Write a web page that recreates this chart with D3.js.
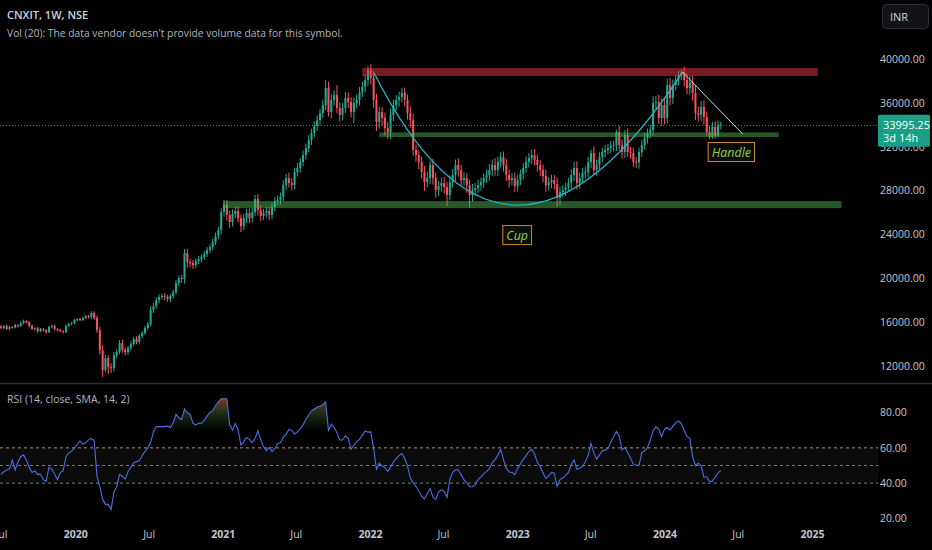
<!DOCTYPE html>
<html>
<head>
<meta charset="utf-8">
<script src="https://cdn.jsdelivr.net/npm/d3@7"></script>
<style>
  html, body { margin: 0; padding: 0; background: #000; }
  svg { display: block; font-family: "Open Sans", "Noto Sans", sans-serif; }
</style>
</head>
<body>
<svg id="chart" width="932" height="550"></svg>
<script>
// weekly closes, CNXIT, week of 1 Jul 2019 .. week of 20 May 2024
const closes = [
  15460, 15640, 15370, 15550, 15520, 15730, 15640, 15910, 16100, 16000, 15640, 15370, 15460, 15180, 15370, 15270,
  15090, 15550, 15640, 15370, 15270, 15180, 15090, 15640, 15820, 15910, 16190, 16280, 16190, 16370, 16550, 16460,
  16830, 16370, 15270, 13450, 11620, 12720, 11900, 11800, 12990, 13270, 14090, 13450, 13270, 13630, 14000, 14450,
  14180, 14730, 15000, 15460, 15820, 17100, 17460, 18010, 18290, 18380, 18290, 18100, 18380, 18740, 19560, 20020,
  19930, 22300, 21480, 21390, 21200, 21570, 21750, 21930, 22210, 22570, 22850, 23300, 23850, 24400, 26040, 26680,
  25770, 25130, 25860, 26130, 25490, 24760, 25490, 25950, 25490, 26040, 27230, 26220, 25680, 25950, 26130, 25770,
  26500, 27040, 27140, 27410, 28500, 29140, 28690, 28500, 29690, 30060, 30600, 31240, 31880, 32610, 33250, 33890,
  34430, 35070, 35800, 37350, 35160, 36260, 36720, 35530, 34890, 35530, 36440, 36080, 35160, 35990, 36260, 36990,
  37450, 38080, 39000, 38270, 36260, 34250, 35160, 34620, 33700, 33300, 34890, 35800, 36260, 36530, 36900, 36260,
  35070, 34430, 31700, 31240, 30600, 29690, 28780, 29140, 30330, 29140, 28050, 28410, 28690, 28320, 27600, 28780,
  29420, 30330, 29870, 28960, 29140, 28500, 27590, 28050, 28230, 28500, 28780, 29140, 29420, 29870, 30330, 29870,
  30600, 31060, 30330, 29420, 28960, 29140, 28410, 28960, 29510, 30060, 30600, 30970, 31240, 30790, 30330, 29870,
  29330, 28500, 28780, 28960, 28600, 27320, 27870, 28050, 28320, 28690, 29420, 30060, 28690, 29140, 29600, 29690,
  30600, 31420, 29870, 30330, 31060, 31520, 31700, 31880, 32060, 32150, 33340, 32150, 31520, 33070, 31520, 31430,
  30600, 30550, 31520, 32150, 32790, 33250, 33520, 35990, 36080, 34620, 35800, 34620, 37630, 36440, 37630, 38080,
  38540, 38810, 38080, 37350, 37900, 36900, 35070, 34890, 35620, 34710, 33340, 32880, 33800, 32980, 33980, 33995.25
]
const firstOpen = 15600

// upper / lower shadow lengths, index points
const wickUp = [
  120, 90, 150, 110, 80, 140, 100, 160, 130, 90, 110, 150, 80, 120, 100, 90,
  100, 130, 90, 120, 80, 110, 100, 150, 120, 100, 130, 90, 110, 140, 120, 100,
  180, 160, 220, 300, 450, 270, 270, 350, 300, 250, 280, 330, 260, 220, 250, 200,
  250, 200, 180, 220, 210, 350, 300, 260, 240, 230, 260, 210, 200, 240, 300, 250,
  300, 360, 400, 300, 280, 260, 300, 240, 260, 280, 250, 300, 320, 280, 350, 460,
  450, 380, 420, 400, 450, 350, 400, 380, 420, 360, 360, 450, 400, 380, 350, 400,
  380, 350, 420, 400, 450, 380, 500, 420, 400, 450, 380, 420, 400, 450, 380, 420,
  450, 400, 500, 730, 600, 500, 450, 900, 500, 450, 550, 500, 450, 480, 500, 450,
  500, 450, 360, 500, 600, 550, 500, 450, 500, 550, 600, 500, 450, 500, 450, 500,
  500, 600, 550, 500, 450, 500, 550, 600, 400, 550, 500, 450, 500, 550, 450, 600,
  550, 500, 600, 500, 550, 450, 500, 550, 450, 500, 400, 450, 500, 550, 500, 600,
  500, 450, 500, 550, 500, 450, 500, 450, 400, 450, 500, 450, 500, 550, 500, 450,
  500, 550, 450, 500, 450, 600, 500, 450, 400, 450, 500, 550, 600, 500, 450, 500,
  450, 300, 600, 500, 450, 400, 450, 400, 450, 400, 200, 550, 500, 450, 600, 450,
  500, 450, 400, 450, 500, 400, 450, 600, 550, 650, 600, 700, 550, 650, 500, 450,
  400, 200, 500, 600, 550, 600, 700, 600, 550, 600, 500, 550, 450, 500, 400, 300
]
const wickDn = [
  90, 120, 80, 130, 100, 90, 150, 80, 110, 140, 100, 90, 120, 160, 100, 130,
  150, 90, 110, 140, 120, 90, 130, 80, 100, 110, 90, 120, 100, 80, 110, 130,
  200, 150, 250, 400, 630, 180, 640, 420, 300, 280, 200, 250, 300, 260, 220, 180,
  200, 220, 180, 150, 200, 180, 250, 230, 280, 220, 300, 240, 260, 210, 230, 280,
  350, 400, 500, 380, 360, 300, 280, 320, 250, 260, 300, 280, 260, 300, 400, 420,
  500, 550, 400, 380, 420, 540, 380, 420, 450, 400, 350, 500, 450, 380, 420, 460,
  400, 380, 350, 420, 380, 450, 420, 500, 380, 400, 450, 380, 420, 400, 450, 380,
  450, 500, 420, 480, 400, 550, 500, 450, 600, 500, 450, 550, 500, 1000, 450, 500,
  450, 500, 550, 600, 700, 800, 600, 700, 650, 600, 600, 550, 500, 600, 500, 550,
  600, 700, 550, 600, 650, 600, 800, 500, 550, 600, 700, 550, 500, 600, 1000, 500,
  500, 550, 600, 550, 500, 700, 1190, 600, 500, 450, 500, 550, 450, 500, 550, 500,
  550, 500, 600, 550, 700, 500, 550, 500, 450, 500, 450, 500, 550, 500, 600, 550,
  550, 600, 500, 550, 500, 820, 650, 500, 550, 450, 500, 550, 600, 500, 450, 500,
  500, 550, 450, 500, 400, 450, 500, 400, 450, 500, 550, 500, 600, 550, 450, 500,
  450, 500, 550, 450, 400, 500, 450, 500, 600, 550, 700, 600, 500, 650, 550, 500,
  500, 450, 600, 550, 600, 700, 650, 600, 550, 700, 300, 200, 150, 250, 150, 400
]

// RSI (14, close, SMA, 14, 2), one value per week
const rsiValues = [
  45, 46.5, 47.5, 48, 53, 47.5, 52, 55, 56, 53, 49, 46, 47, 45, 45, 42,
  41, 49, 48, 45, 42, 46, 47, 55, 57, 58, 60, 62, 64, 62, 63, 64.5,
  65.3, 64, 44, 38, 31, 28, 28, 25, 35, 38, 45, 44, 42.3, 46.5, 49, 51.5,
  52.2, 52.7, 55.5, 58, 60, 63, 69, 72, 72, 72, 72, 72.3, 71.5, 74, 79, 77,
  76, 82, 80, 79, 74, 73, 74, 74, 75.5, 78, 80, 81, 84, 86, 87.8, 87.8,
  87.8, 73, 70, 73.7, 70, 61.6, 63.5, 65.9, 64.8, 63, 65.3, 69.6, 64.8, 60.7, 58.4, 60.3,
  57.8, 59.5, 62.5, 62.9, 65.9, 67.8, 70.4, 70, 67.8, 69, 70.9, 73, 76, 78.6, 80.9, 82,
  83.1, 83.5, 84.4, 86.1, 70, 73.4, 71.5, 68.5, 64.4, 64.4, 66.8, 65.3, 59.2, 61.6, 63.5, 64.8,
  67.2, 69.6, 68.9, 69, 59.7, 47.9, 51.3, 49.8, 48.9, 46.6, 49, 51.9, 54.1, 55.6, 56.9, 54.1,
  49.8, 42.9, 40.1, 38.2, 35.4, 32.6, 31.1, 34.1, 36.9, 32.2, 30.7, 34.9, 36.3, 35.4, 32, 42,
  46.1, 47.6, 47.6, 44.8, 42, 40.1, 38, 38, 39.2, 42, 43.6, 45.4, 46.5, 48.2, 51.7, 53.2,
  56, 59, 53.2, 48.5, 46.3, 46.1, 44.8, 48.5, 50.9, 53.6, 55.6, 57.9, 59.2, 56.5, 51.7, 49.4,
  45.7, 42.7, 44, 46.1, 45.7, 38.2, 42, 42.9, 44.4, 46.1, 50.4, 53.2, 47.9, 48.5, 49.4, 52.2,
  55.6, 62.5, 57.3, 53.6, 56, 58.4, 58.6, 59.7, 63.1, 66.3, 69.3, 66.6, 58.8, 60.3, 57.3, 54.1,
  50.9, 50.2, 50, 57.3, 58.2, 60.1, 64.4, 69.6, 71.9, 70.6, 66.3, 70.4, 71.5, 70, 72.3, 74.1,
  75.4, 73.7, 70, 66.3, 65.5, 55, 50, 51.3, 49.8, 43.5, 43.5, 41, 41, 43.5, 45.7, 47.2
]

const startWeek = new Date(2019, 6, 1)
const priceTicks = [12000, 16000, 20000, 24000, 28000, 32000, 36000, 40000]
const rsiTicks = [20, 40, 60, 80]
const rsiLevels = [60, 50, 40]
const timeTicks = [
  new Date(2019, 6, 1), new Date(2020, 0, 1), new Date(2020, 6, 1), new Date(2021, 0, 1),
  new Date(2021, 6, 1), new Date(2022, 0, 1), new Date(2022, 6, 1), new Date(2023, 0, 1),
  new Date(2023, 6, 1), new Date(2024, 0, 1), new Date(2024, 6, 1), new Date(2025, 0, 1)
]

// drawings on the price pane
const zones = [
  { kind: 'resistance', from: new Date(2021, 11, 13), to: new Date(2025, 0, 15), lo: 38450, hi: 39180 },
  { kind: 'support', from: new Date(2022, 0, 24), to: new Date(2024, 9, 10), lo: 32880, hi: 33300 },
  { kind: 'support', from: new Date(2021, 0, 1), to: new Date(2025, 2, 15), lo: 26400, hi: 27040 }
]
const cupArc = [
  { date: new Date(2022, 0, 11), price: 38720 },
  { date: new Date(2022, 11, 9), price: 14590 },
  { date: new Date(2024, 1, 15), price: 38810 }
]
const handleLine = [
  { date: new Date(2024, 1, 15), price: 38810 },
  { date: new Date(2024, 6, 13), price: 33160 }
]
const notes = [
  { text: 'Cup', date: new Date(2023, 0, 1), price: 23940 },
  { text: 'Handle', date: new Date(2024, 5, 15), price: 31515 }
]

const W = 932
const H = 550
const plotRight = 878
const paneSplit = 383.5
const upColor = '#22ab94'
const downColor = '#f7525f'
const zoneFill = { resistance: 'rgba(242,54,69,0.5)', support: 'rgba(76,175,80,0.5)' }

const svg = d3.select('#chart')
svg.append('rect').attr('width', W).attr('height', H).attr('fill', '#000')

const x = d3.scaleTime().domain([new Date(2019, 6, 1), new Date(2025, 0, 1)]).range([1, 812])
const yP = d3.scaleLinear().domain([12000, 40000]).range([366, 59])
const yR = d3.scaleLinear().domain([20, 80]).range([518.5, 412.5])

const candles = closes.map((c, i) => {
  const o = i ? closes[i - 1] : firstOpen
  return {
    date: d3.timeDay.offset(startWeek, 7 * i),
    o,
    c,
    h: Math.max(o, c) + wickUp[i],
    l: Math.min(o, c) - wickDn[i]
  }
})
const rsi = rsiValues.map((v, i) => ({ date: d3.timeDay.offset(startWeek, 7 * i), v }))

const defs = svg.append('defs')
defs.append('clipPath').attr('id', 'clip-price')
  .append('rect').attr('x', 0).attr('y', 0).attr('width', plotRight).attr('height', paneSplit)
defs.append('clipPath').attr('id', 'clip-ob')
  .append('rect').attr('x', 0).attr('y', 384).attr('width', plotRight).attr('height', yR(70) - 384)
defs.append('clipPath').attr('id', 'clip-os')
  .append('rect').attr('x', 0).attr('y', yR(30)).attr('width', plotRight).attr('height', 530 - yR(30))

const obGrad = defs.append('linearGradient').attr('id', 'ob-grad')
  .attr('gradientUnits', 'userSpaceOnUse').attr('x1', 0).attr('x2', 0)
  .attr('y1', yR(88)).attr('y2', yR(70))
obGrad.append('stop').attr('offset', 0).attr('stop-color', 'rgb(190,70,60)').attr('stop-opacity', 0.75)
obGrad.append('stop').attr('offset', 0.45).attr('stop-color', 'rgb(70,105,50)').attr('stop-opacity', 0.45)
obGrad.append('stop').attr('offset', 1).attr('stop-color', 'rgb(40,80,40)').attr('stop-opacity', 0.05)

const osGrad = defs.append('linearGradient').attr('id', 'os-grad')
  .attr('gradientUnits', 'userSpaceOnUse').attr('x1', 0).attr('x2', 0)
  .attr('y1', yR(30)).attr('y2', yR(20))
osGrad.append('stop').attr('offset', 0).attr('stop-color', 'rgb(40,80,40)').attr('stop-opacity', 0.05)
osGrad.append('stop').attr('offset', 1).attr('stop-color', 'rgb(70,105,50)').attr('stop-opacity', 0.4)

// ---- price pane ----
const pricePane = svg.append('g').attr('clip-path', 'url(#clip-price)')

const candleG = pricePane.append('g')
candleG.selectAll('rect.wick').data(candles).join('rect')
  .attr('class', 'wick')
  .attr('x', (d) => x(d.date) - 0.5)
  .attr('width', 1)
  .attr('y', (d) => yP(d.h))
  .attr('height', (d) => yP(d.l) - yP(d.h))
  .attr('fill', (d) => (d.c >= d.o ? upColor : downColor))
candleG.selectAll('rect.body').data(candles).join('rect')
  .attr('class', 'body')
  .attr('x', (d) => x(d.date) - 1)
  .attr('width', 2)
  .attr('y', (d) => yP(Math.max(d.o, d.c)))
  .attr('height', (d) => Math.max(1, Math.abs(yP(d.o) - yP(d.c))))
  .attr('fill', (d) => (d.c >= d.o ? upColor : downColor))

const last = candles[candles.length - 1]
pricePane.append('line')
  .attr('x1', 0).attr('x2', plotRight)
  .attr('y1', Math.round(yP(last.c)) + 0.5).attr('y2', Math.round(yP(last.c)) + 0.5)
  .attr('stroke', '#4d7a72').attr('stroke-width', 1).attr('stroke-dasharray', '1,2')

pricePane.selectAll('rect.zone').data(zones).join('rect')
  .attr('class', 'zone')
  .attr('x', (d) => x(d.from))
  .attr('width', (d) => x(d.to) - x(d.from))
  .attr('y', (d) => yP(d.hi))
  .attr('height', (d) => yP(d.lo) - yP(d.hi))
  .attr('fill', (d) => zoneFill[d.kind])

const [a0, a1, a2] = cupArc
pricePane.append('path')
  .attr('d', `M${x(a0.date)},${yP(a0.price)} Q${x(a1.date)},${yP(a1.price)} ${x(a2.date)},${yP(a2.price)}`)
  .attr('fill', 'none').attr('stroke', '#27b5c9').attr('stroke-width', 1.3)

pricePane.append('path')
  .attr('d', d3.line().x((d) => x(d.date)).y((d) => yP(d.price))(handleLine))
  .attr('fill', 'none').attr('stroke', '#d6d6d6').attr('stroke-width', 1)

const noteG = pricePane.selectAll('g.note').data(notes).join('g')
  .attr('class', 'note')
  .attr('transform', (d) => `translate(${x(d.date)},${yP(d.price)})`)
noteG.append('text')
  .attr('text-anchor', 'middle').attr('dy', '0.36em')
  .attr('font-size', 12.5).attr('font-style', 'italic')
  .attr('fill', '#8fcf4f')
  .text((d) => d.text)
noteG.each(function () {
  const g = d3.select(this)
  const bb = g.select('text').node().getBBox()
  g.insert('rect', 'text')
    .attr('x', bb.x - 3.5).attr('y', -9.5)
    .attr('width', bb.width + 7).attr('height', 19)
    .attr('fill', '#0d0d08').attr('stroke', '#c98a2c').attr('stroke-width', 1)
})

// price axis
const priceAxis = svg.append('g').attr('transform', 'translate(880,0)')
  .call(d3.axisRight(yP).tickValues(priceTicks).tickFormat(d3.format('.2f')).tickSize(0).tickPadding(0))
priceAxis.select('.domain').remove()
priceAxis.selectAll('text').attr('fill', '#c3c6ce').attr('font-size', 10.5).attr('font-family', '"Open Sans", sans-serif')

// last price tag (covers part of the 32000 label, as on the original)
const tagY = yP(last.c)
const tag = svg.append('g').attr('transform', `translate(878,${tagY})`)
tag.append('rect').attr('x', 0).attr('y', -10).attr('width', 52).attr('height', 32).attr('rx', 1.5).attr('fill', '#1a9e86')
tag.append('text').attr('x', 5).attr('y', 3.8).attr('font-size', 11).attr('fill', '#fff').text(d3.format('.2f')(last.c))
tag.append('text').attr('x', 5).attr('y', 16.8).attr('font-size', 11).attr('fill', '#fff').text('3d 14h')

// ---- RSI pane ----
svg.append('line').attr('x1', 0).attr('x2', W).attr('y1', paneSplit).attr('y2', paneSplit)
  .attr('stroke', '#2e2e2e').attr('stroke-width', 1.5)

svg.append('rect').attr('x', 0).attr('width', plotRight)
  .attr('y', yR(60)).attr('height', yR(40) - yR(60))
  .attr('fill', 'rgba(255,255,255,0.045)')

const levelColor = { 60: '#b0916a', 50: '#7c7c7c', 40: '#5f8f6e' }
svg.selectAll('line.level').data(rsiLevels).join('line')
  .attr('class', 'level')
  .attr('x1', 0).attr('x2', plotRight)
  .attr('y1', (d) => yR(d)).attr('y2', (d) => yR(d))
  .attr('stroke', (d) => levelColor[d]).attr('stroke-width', 1).attr('stroke-dasharray', '3,3')

svg.append('path').datum(rsi)
  .attr('clip-path', 'url(#clip-ob)')
  .attr('d', d3.area().x((d) => x(d.date)).y0(yR(70)).y1((d) => yR(d.v)))
  .attr('fill', 'url(#ob-grad)')
svg.append('path').datum(rsi)
  .attr('clip-path', 'url(#clip-os)')
  .attr('d', d3.area().x((d) => x(d.date)).y0(yR(30)).y1((d) => yR(d.v)))
  .attr('fill', 'url(#os-grad)')

svg.append('path').datum(rsi)
  .attr('d', d3.line().x((d) => x(d.date)).y((d) => yR(d.v)))
  .attr('fill', 'none').attr('stroke', '#4b6fe6').attr('stroke-width', 1.1)

const rsiAxis = svg.append('g').attr('transform', 'translate(880,0)')
  .call(d3.axisRight(yR).tickValues(rsiTicks).tickFormat(d3.format('.2f')).tickSize(0).tickPadding(0))
rsiAxis.select('.domain').remove()
rsiAxis.selectAll('text').attr('fill', '#c3c6ce').attr('font-size', 10.5).attr('font-family', '"Open Sans", sans-serif')

// ---- time axis (first "Jul" sits on the left edge, as on the original) ----
const fmtTick = (d) => (d.getMonth() === 0 ? d3.timeFormat('%Y')(d) : d3.timeFormat('%b')(d))
const timeAxis = svg.append('g').attr('transform', 'translate(0,528)')
  .call(d3.axisBottom(x).tickValues(timeTicks).tickFormat(fmtTick).tickSize(0).tickPadding(3))
timeAxis.select('.domain').remove()
timeAxis.selectAll('text')
  .attr('fill', '#c3c6ce').attr('font-size', 10.5).attr('font-family', '"Open Sans", sans-serif')
  .attr('font-weight', (d) => (d.getMonth() === 0 ? 700 : 400))

// ---- legends ----
svg.append('text').attr('x', 7).attr('y', 19).attr('font-size', 11).attr('font-weight', 600)
  .attr('fill', '#d1d4dc').text('CNXIT, 1W, NSE')
svg.append('text').attr('x', 7).attr('y', 37).attr('font-size', 10.3)
  .attr('fill', '#b2b5be').text("Vol (20): The data vendor doesn't provide volume data for this symbol.")
svg.append('text').attr('x', 7).attr('y', 403).attr('font-size', 10.5)
  .attr('fill', '#b2b5be').text('RSI (14, close, SMA, 14, 2)')

const inr = svg.append('g').attr('transform', 'translate(882,4)')
inr.append('rect').attr('x', 0.5).attr('y', 0.5).attr('width', 46).attr('height', 24).attr('rx', 4)
  .attr('fill', '#121316').attr('stroke', '#2e3038')
inr.append('text').attr('x', 8).attr('y', 16.5).attr('font-size', 11).attr('fill', '#d1d4dc').text('INR')
</script>
</body>
</html>
